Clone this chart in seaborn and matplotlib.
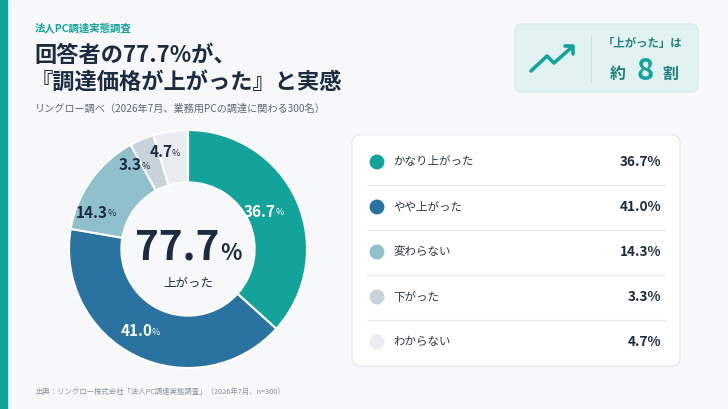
import seaborn as sns
import matplotlib.pyplot as plt
import numpy as np
from matplotlib.patches import FancyBboxPatch, Rectangle

sns.set_theme(style="white")
plt.rcParams["font.family"] = ["Noto Sans CJK JP", "DejaVu Sans"]

# データ
categories = ["かなり上がった", "やや上がった", "変わらない", "下がった", "わからない"]
values = [36.7, 41.0, 14.3, 3.3, 4.7]
colors = ["#14a39b", "#2a72a0", "#8fc0cb", "#c8d2db", "#e9edf2"]
label_colors = ["white", "white", "#1c2b40", "#1c2b40", "#1c2b40"]
rise_total = 77.7

NAVY = "#1c2b40"
TEAL = "#14a39b"
GRAY = "#5b6674"
BG = "#f6f8fa"

W, H = 728, 409
fig = plt.figure(figsize=(W / 100, H / 100), dpi=100)
fig.patch.set_facecolor(BG)

# 全体をピクセル座標で扱う背景用の軸
bg = fig.add_axes([0, 0, 1, 1])
bg.set_xlim(0, W)
bg.set_ylim(H, 0)
bg.axis("off")

bg.add_patch(Rectangle((0, 0), 7, H, color=TEAL, zorder=1))

# 見出し
bg.text(35, 28, "法人PC調達実態調査", color=TEAL, fontsize=7.5, fontweight="bold", va="center")
bg.text(34, 55, "回答者の77.7%が、", color=NAVY, fontsize=16, fontweight="bold", va="center")
bg.text(31, 82, "『調達価格が上がった』と実感", color=NAVY, fontsize=16, fontweight="bold", va="center")
bg.text(35, 109, "リングロー調べ（2026年7月、業務用PCの調達に関わる300名）",
        color=GRAY, fontsize=7.3, va="center")
bg.text(35, 392, "出典：リングロー株式会社「法人PC調達実態調査」（2026年7月、n=300）",
        color="#8a939e", fontsize=5.3, va="center")

# 右上のカード
bg.add_patch(FancyBboxPatch((515, 24), 183, 68, boxstyle="round,pad=0,rounding_size=7",
                            fc="#e2f2f2", ec="#d5ebeb", lw=0.8, zorder=2))
bg.plot([591, 591], [35, 82], color="#c6e2e2", lw=0.8, zorder=3)
bg.plot([531, 547, 554, 572], [71, 56, 63, 47], color=TEAL, lw=2.6,
        solid_capstyle="round", solid_joinstyle="round", zorder=4)
bg.plot([565, 573, 573], [46, 46, 54], color=TEAL, lw=2.6,
        solid_capstyle="round", solid_joinstyle="round", zorder=4)
bg.text(643, 44, "「上がった」は", color="#1f7f7a", fontsize=8.2, fontweight="bold",
        ha="center", va="center", zorder=4)
bg.text(618, 74, "約", color="#1f7f7a", fontsize=11.5, fontweight="bold", ha="center", va="center", zorder=4)
bg.text(645, 71, "8", color=TEAL, fontsize=21, fontweight="bold", ha="center", va="center", zorder=4)
bg.text(670, 74, "割", color="#1f7f7a", fontsize=11.5, fontweight="bold", ha="center", va="center", zorder=4)

# 凡例カード
bg.add_patch(FancyBboxPatch((352, 135), 328, 231, boxstyle="round,pad=0,rounding_size=8",
                            fc="white", ec="#e4e8ec", lw=0.8, zorder=2))
row_top, row_h = 162, 45
for i, (cat, val, col) in enumerate(zip(categories, values, colors)):
    y = row_top + i * row_h
    bg.scatter([377], [y], s=115, color=col, zorder=4, edgecolors="none")
    bg.text(393, y, cat, color="#2b3646", fontsize=8.3, va="center", zorder=4)
    bg.text(661, y, f"{val:.1f}%", color=NAVY, fontsize=9.8, fontweight="bold",
            ha="right", va="center", zorder=4)
    if i < len(categories) - 1:
        bg.plot([367, 665], [y + 23, y + 23], color="#e6e9ed", lw=0.8, zorder=3)

# ドーナツ
cx, cy, r = 188, 249, 119
ax = fig.add_axes([(cx - r) / W, (H - cy - r) / H, 2 * r / W, 2 * r / H])
ax.pie(values, colors=colors, startangle=90, counterclock=False, radius=1,
       wedgeprops=dict(width=0.44, edgecolor="white", linewidth=1.5))
ax.set_xlim(-1, 1)
ax.set_ylim(-1, 1)
ax.set_aspect("equal")
ax.axis("off")

# 小さい扇形はラベルが重ならないよう角度と半径を少しずらす
nudge_deg = [0, 0, 12, 8, 3]
label_r = [0.77, 0.77, 0.77, 0.82, 0.83]
cum = np.cumsum([0] + values)
for i, val in enumerate(values):
    mid = 90 - (cum[i] + val / 2) / 100 * 360 + nudge_deg[i]
    x, y = label_r[i] * np.cos(np.radians(mid)), label_r[i] * np.sin(np.radians(mid))
    ax.annotate(f"{val:.1f}", (x, y), xytext=(3, 0), textcoords="offset points",
                ha="right", va="center", fontsize=11, fontweight="bold", color=label_colors[i])
    ax.annotate("%", (x, y), xytext=(2.6, -0.8), textcoords="offset points",
                ha="left", va="center", fontsize=6.5, color=label_colors[i])

ax.text(0.26, -0.092, f"{rise_total}", ha="right", va="baseline",
        fontsize=29, fontweight="bold", color=NAVY)
ax.text(0.27, -0.092, "%", ha="left", va="baseline",
        fontsize=16, fontweight="bold", color=NAVY)
ax.text(0, -0.29, "上がった", ha="center", va="center", fontsize=9, color=NAVY)

fig.savefig("out.png", dpi=100, facecolor=BG)
